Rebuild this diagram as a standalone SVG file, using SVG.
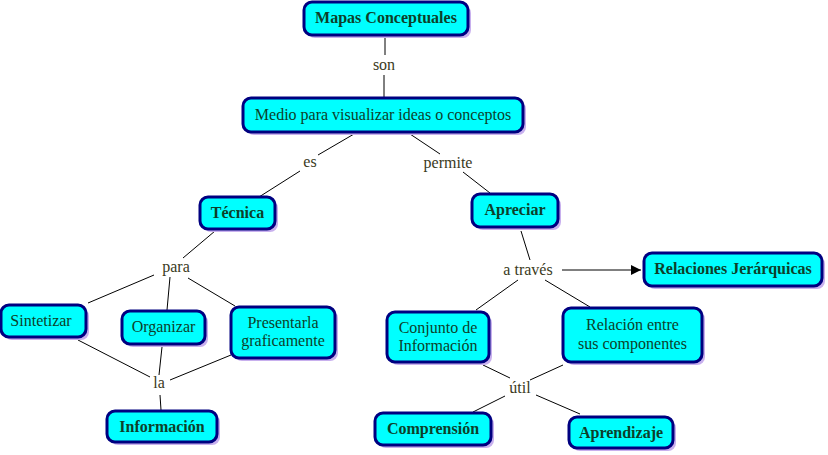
<svg xmlns="http://www.w3.org/2000/svg" width="828" height="455" viewBox="0 0 828 455">
<style>
.sh{fill:#c8b0ee;}
.bx{fill:#00ffff;stroke:#000080;stroke-width:3;}
.t{font-size:16px;fill:#0d3f2a;text-anchor:middle;}
.b{font-weight:bold;}
.lb{font-size:16px;fill:#3a3a1c;text-anchor:middle;}
.ln{stroke:#000;stroke-width:1;fill:none;}
</style>
<defs>
<marker id="ar" viewBox="0 0 10 10" refX="10" refY="5" markerWidth="10" markerHeight="10" markerUnits="userSpaceOnUse" orient="auto"><path d="M0,0 L10,5 L0,10 z" fill="#000"/></marker>
</defs>
<rect width="828" height="455" fill="#fff"/>
<g id="connectors">
<line class="ln" x1="385" y1="36" x2="385" y2="55"/>
<line class="ln" x1="384" y1="75" x2="384" y2="97"/>
<line class="ln" x1="354" y1="134" x2="318" y2="155"/>
<line class="ln" x1="300" y1="171" x2="259" y2="197"/>
<line class="ln" x1="410" y1="134" x2="440" y2="154"/>
<line class="ln" x1="463" y1="172" x2="490" y2="193"/>
<line class="ln" x1="215" y1="231" x2="183" y2="258"/>
<line class="ln" x1="154" y1="275" x2="88" y2="303"/>
<line class="ln" x1="170" y1="277" x2="167" y2="310"/>
<line class="ln" x1="188" y1="278" x2="235" y2="306"/>
<line class="ln" x1="78" y1="340" x2="150" y2="377"/>
<line class="ln" x1="162" y1="347" x2="159" y2="375"/>
<line class="ln" x1="231" y1="355" x2="170" y2="380"/>
<line class="ln" x1="160" y1="395" x2="161" y2="410"/>
<line class="ln" x1="521" y1="231" x2="530" y2="260"/>
<line class="ln" x1="562" y1="270" x2="641" y2="270" marker-end="url(#ar)"/>
<line class="ln" x1="518" y1="280" x2="476" y2="310"/>
<line class="ln" x1="545" y1="280" x2="590" y2="307"/>
<line class="ln" x1="483" y1="365" x2="510" y2="378"/>
<line class="ln" x1="563" y1="365" x2="530" y2="380"/>
<line class="ln" x1="505" y1="396" x2="473" y2="412"/>
<line class="ln" x1="536" y1="395" x2="580" y2="414"/>
</g>
<g font-family="'Liberation Serif', 'Times New Roman', serif">
<g id="linklabels">
<text class="lb" x="384" y="70">son</text>
<text class="lb" x="310" y="167">es</text>
<text class="lb" x="448" y="168">permite</text>
<text class="lb" x="176" y="272">para</text>
<text class="lb" x="159" y="388">la</text>
<text class="lb" x="528" y="275">a través</text>
<text class="lb" x="520" y="393">útil</text>
</g>
<g id="n-mapas">
<rect class="sh" x="307" y="5" width="164" height="33" rx="8"/>
<rect class="bx" x="304" y="2" width="164" height="33" rx="8"/>
<text class="t b" x="386" y="23">Mapas Conceptuales</text>
</g>
<g id="n-medio">
<rect class="sh" x="246" y="101" width="280" height="34" rx="8"/>
<rect class="bx" x="243" y="98" width="280" height="34" rx="8"/>
<text class="t" x="383" y="120">Medio para visualizar ideas o conceptos</text>
</g>
<g id="n-tecnica">
<rect class="sh" x="203" y="200" width="75" height="32" rx="8"/>
<rect class="bx" x="200" y="197" width="75" height="32" rx="8"/>
<text class="t b" x="237.5" y="218">Técnica</text>
</g>
<g id="n-sintetizar">
<rect class="sh" x="4" y="308" width="85" height="32" rx="8"/>
<rect class="bx" x="1" y="305" width="85" height="32" rx="8"/>
<text class="t" x="41" y="326">Sintetizar</text>
</g>
<g id="n-organizar">
<rect class="sh" x="125" y="314" width="83" height="33" rx="8"/>
<rect class="bx" x="122" y="311" width="83" height="33" rx="8"/>
<text class="t" x="163.5" y="332">Organizar</text>
</g>
<g id="n-presentarla">
<rect class="sh" x="234" y="310" width="104" height="51" rx="8"/>
<rect class="bx" x="231" y="307" width="104" height="51" rx="8"/>
<text class="t" x="283" y="328">Presentarla</text>
<text class="t" x="283" y="346">graficamente</text>
</g>
<g id="n-informacion">
<rect class="sh" x="110" y="414" width="110" height="31" rx="8"/>
<rect class="bx" x="107" y="411" width="110" height="31" rx="8"/>
<text class="t b" x="162" y="432">Información</text>
</g>
<g id="n-apreciar">
<rect class="sh" x="475" y="197" width="86" height="33" rx="8"/>
<rect class="bx" x="472" y="194" width="86" height="33" rx="8"/>
<text class="t b" x="515" y="215">Apreciar</text>
</g>
<g id="n-relaciones">
<rect class="sh" x="647" y="256" width="178" height="33" rx="8"/>
<rect class="bx" x="644" y="253" width="178" height="33" rx="8"/>
<text class="t b" x="733" y="274">Relaciones Jerárquicas</text>
</g>
<g id="n-conjunto">
<rect class="sh" x="390" y="315" width="102" height="50" rx="8"/>
<rect class="bx" x="387" y="312" width="102" height="50" rx="8"/>
<text class="t" x="438" y="333">Conjunto de</text>
<text class="t" x="438" y="351">Información</text>
</g>
<g id="n-relacion">
<rect class="sh" x="566" y="311" width="139" height="54" rx="8"/>
<rect class="bx" x="563" y="308" width="139" height="54" rx="8"/>
<text class="t" x="632.5" y="330">Relación entre</text>
<text class="t" x="632.5" y="349">sus componentes</text>
</g>
<g id="n-comprension">
<rect class="sh" x="378" y="416" width="116" height="32" rx="8"/>
<rect class="bx" x="375" y="413" width="116" height="32" rx="8"/>
<text class="t b" x="433" y="434">Comprensión</text>
</g>
<g id="n-aprendizaje">
<rect class="sh" x="572" y="420" width="104" height="31" rx="8"/>
<rect class="bx" x="569" y="417" width="104" height="31" rx="8"/>
<text class="t b" x="621" y="438">Aprendizaje</text>
</g>
</g>
</svg>
